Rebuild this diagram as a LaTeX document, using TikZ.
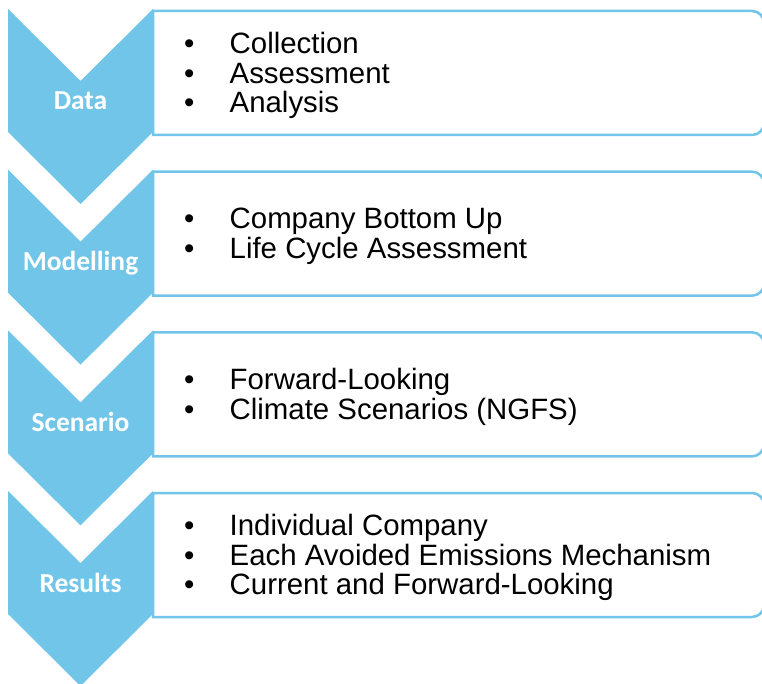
\documentclass[tikz,border=0pt]{standalone}
\usepackage{fontspec}
\setmainfont{Liberation Sans}
\newfontfamily\labelfont{Carlito}

\definecolor{stepblue}{RGB}{112,197,233}

\tikzset{
	chevron/.style={fill=stepblue, draw=none},
	listbox/.style={draw=stepblue, line width=2.5pt},
	steplabel/.style={font=\labelfont\bfseries\fontsize{27.5}{30}\selectfont, text=white, inner sep=0pt, anchor=base},
	listtext/.style={font=\fontsize{29.4}{29.7}\selectfont, align=left, inner sep=0pt, anchor=west},
}
\newcommand{\bul}{\makebox[45.5pt][l]{•}}

\begin{document}
\begin{tikzpicture}[x=1pt, y=1pt]
	\useasboundingbox (0,0) rectangle (762,684);

	\foreach \i/\name/\items in {
		1/Data/{\bul Collection\\ \bul Assessment\\ \bul Analysis},
		2/Modelling/{\bul Company Bottom Up\\ \bul Life Cycle Assessment},
		3/Scenario/{\bul Forward-Looking\\ \bul Climate Scenarios (NGFS)},
		4/Results/{\bul Individual Company\\ \bul Each Avoided Emissions Mechanism\\ \bul Current and Forward-Looking}}
	{
		\pgfmathsetmacro\t{684-9-160.67*(\i-1)}	% top of the chevron
		% chevron
		\fill[chevron] (8,\t) -- (80.5,\t-72) -- (153,\t) -- (153,\t-123) -- (80.5,\t-195) -- (8,\t-123) -- cycle;
		% box, rounded on the right
		\draw[listbox] (153,\t-126) -- (153,\t-2) -- (752,\t-2) arc[start angle=90, end angle=0, radius=12]
			-- (764,\t-114) arc[start angle=0, end angle=-90, radius=12] -- cycle;
		\node[steplabel] (label-\i) at (80.5,\t-101) {\name};	% step name
		\node[listtext] (list-\i) at (184,\t-66.5) {\items};	% bullet list
	}
\end{tikzpicture}
\end{document}
